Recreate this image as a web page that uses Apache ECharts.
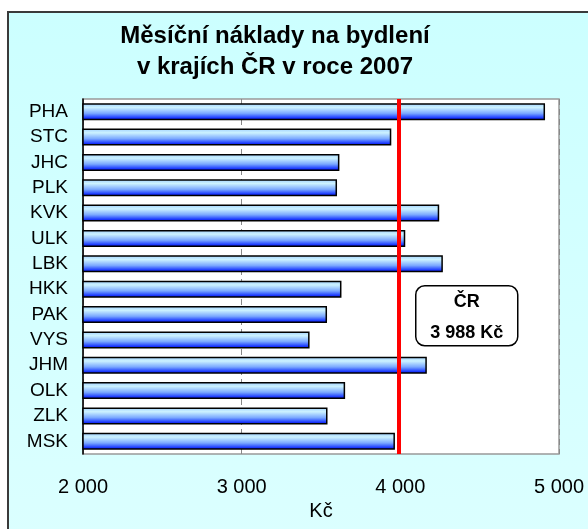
<!DOCTYPE html>
<html>
<head>
<meta charset="utf-8">
<script src="https://cdn.jsdelivr.net/npm/echarts@6/dist/echarts.min.js"></script>
<style>
  html, body { margin: 0; padding: 0; background: #fff; overflow: hidden; }
  .frame {
    position: absolute; left: 7px; top: 11px; width: 620px; height: 560px;
    border-top: 2px solid #3a3a3a; border-left: 2px solid #3a3a3a;
    background: linear-gradient(to bottom, #ccffff, #dcffff);
  }
  #chart { position: absolute; left: 0; top: 0; width: 588px; height: 529px; }
</style>
</head>
<body>
<div class="frame"></div>
<div id="chart"></div>
<script>
const categories = ['PHA', 'STC', 'JHC', 'PLK', 'KVK', 'ULK', 'LBK', 'HKK', 'PAK', 'VYS', 'JHM', 'OLK', 'ZLK', 'MSK']
const values = [4912, 3943, 3616, 3601, 4245, 4031, 4268, 3629, 3538, 3428, 4167, 3652, 3541, 3966]
const czAverage = 3988
const axisMin = 2000
const axisMax = 5000
const axisStep = 1000
const titleText = 'Měsíční náklady na bydlení\nv krajích ČR v roce 2007'

const font = "'Liberation Sans', Arial, sans-serif"
// mezera jako oddělovač tisíců
const fmt = n => String(n).replace(/\B(?=(\d{3})+(?!\d))/g, ' ')

const myChart = echarts.init(document.getElementById('chart'))

myChart.setOption({
  backgroundColor: 'transparent',
  title: {
    text: titleText,
    left: 270,
    textAlign: 'center',
    top: 16,
    textStyle: { fontFamily: font, fontSize: 24, fontWeight: 'bold', color: '#000', lineHeight: 31 }
  },
  grid: {
    left: 83, right: 29, top: 99, bottom: 75,
    show: true, backgroundColor: '#fff', borderColor: '#999', borderWidth: 1.5
  },
  xAxis: [
    {
      type: 'value',
      min: axisMin,
      max: axisMax,
      interval: axisStep,
      name: 'Kč',
      nameLocation: 'middle',
      nameGap: 46,
      nameTextStyle: { fontFamily: font, fontSize: 20, color: '#000' },
      axisLine: { lineStyle: { color: '#000', width: 1.5 } },
      axisTick: { length: 7, lineStyle: { color: '#000' } },
      axisLabel: { fontFamily: font, fontSize: 20, color: '#000', margin: 23, formatter: fmt },
      splitLine: { show: true, lineStyle: { color: '#888', type: [6, 4], width: 1 } }
    },
    {
      // vedlejší značky dovnitř
      type: 'value',
      position: 'bottom',
      min: axisMin,
      max: axisMax,
      interval: axisStep / 5,
      axisLine: { show: false },
      axisTick: { inside: true, length: 4, lineStyle: { color: '#000' } },
      axisLabel: { show: false },
      splitLine: { show: false }
    }
  ],
  yAxis: {
    type: 'category',
    inverse: true,
    data: categories,
    axisLine: { lineStyle: { color: '#000', width: 1.5 } },
    axisTick: { length: 6, lineStyle: { color: '#000' } },
    axisLabel: { fontFamily: font, fontSize: 19, color: '#000', margin: 15 }
  },
  series: [
    {
      type: 'bar',
      xAxisIndex: 0,
      data: values,
      barWidth: 17,
      itemStyle: {
        borderColor: '#000',
        borderWidth: 1.5,
        color: new echarts.graphic.LinearGradient(0, 0, 0, 1, [
          { offset: 0, color: '#9fcfff' },
          { offset: 0.25, color: '#ccf2ff' },
          { offset: 0.6, color: '#7aa8ff' },
          { offset: 0.85, color: '#2040ff' },
          { offset: 1, color: '#0000e0' }
        ])
      },
      markLine: {
        silent: true,
        symbol: 'none',
        label: { show: false },
        lineStyle: { color: '#ff0000', width: 4, type: 'solid' },
        data: [{ xAxis: czAverage }]
      }
    }
  ],
  graphic: [
    {
      type: 'group',
      left: 415,
      top: 285,
      z: 100,
      children: [
        {
          type: 'rect',
          shape: { x: 0, y: 0, width: 102, height: 60, r: 9 },
          style: { fill: '#fff', stroke: '#000', lineWidth: 1.5 }
        },
        {
          type: 'text',
          x: 51, y: 16,
          style: { text: 'ČR', fontFamily: font, fontSize: 18, fontWeight: 'bold', fill: '#000', align: 'center', verticalAlign: 'middle' }
        },
        {
          type: 'text',
          x: 51, y: 47,
          style: { text: fmt(czAverage) + ' Kč', fontFamily: font, fontSize: 18, fontWeight: 'bold', fill: '#000', align: 'center', verticalAlign: 'middle' }
        }
      ]
    }
  ]
})
</script>
</body>
</html>
